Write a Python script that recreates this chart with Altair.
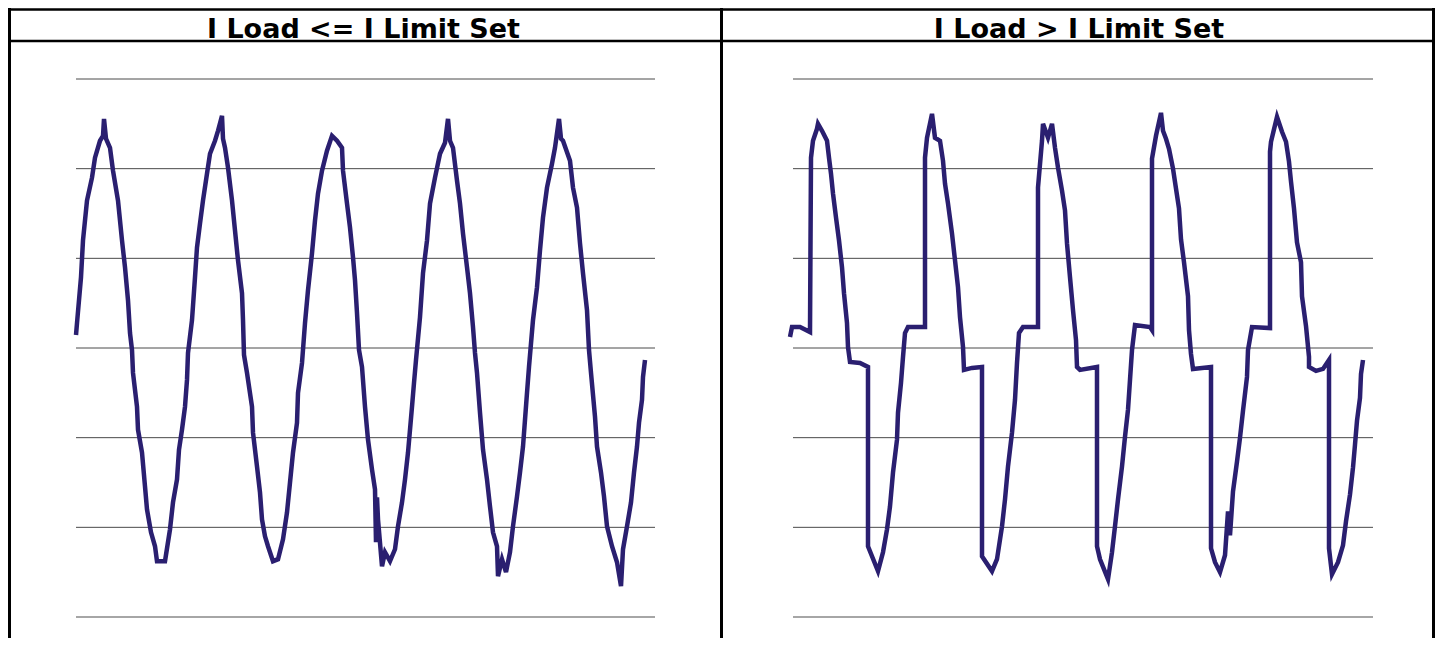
import altair as alt
import pandas as pd

# ---- data (sample index, current in counts) ----
panel_titles = ["I Load <= I Limit Set", "I Load > I Limit Set"]
grid_levels = [-180, -90, 0, 90, 180, 270]
base_level = [-270]
left_span = [0, 579]
right_span = [0, 580]

left_trace = [
    (0, 13), (1, 25), (5, 71), (7, 108), (11, 148), (16, 171), (19, 191), (24, 208), (27, 213), (28, 230),
    (30, 210), (34, 201), (37, 178), (42, 148), (46, 108), (49, 81), (52, 48), (54, 15), (56, -2), (57, -25),
    (61, -59), (62, -82), (66, -105), (69, -139), (71, -162), (75, -185), (79, -199), (81, -214), (89, -214), (94, -182),
    (97, -155), (101, -132), (103, -102), (106, -82), (109, -59), (111, -32), (112, -5), (116, 28), (119, 71), (121, 101),
    (124, 125), (127, 148), (131, 175), (134, 195), (139, 208), (142, 218), (146, 233), (147, 210), (149, 201), (152, 181),
    (156, 148), (159, 118), (162, 88), (166, 55), (167, 28), (168, -7), (171, -25), (176, -59), (177, -85), (181, -119),
    (184, -145), (186, -172), (189, -189), (192, -199), (197, -214), (202, -212), (207, -192), (211, -165), (214, -135), (217, -105),
    (221, -75), (222, -45), (226, -15), (229, 25), (232, 58), (236, 95), (239, 128), (242, 155), (246, 178), (251, 198),
    (256, 213), (261, 208), (266, 201), (267, 178), (271, 145), (274, 121), (277, 91), (279, 68), (281, 35), (283, -2),
    (286, -19), (289, -59), (292, -92), (296, -122), (299, -142), (300, -195), (301, -150), (302, -172), (306, -219), (309, -205),
    (314, -214), (319, -202), (322, -179), (326, -155), (329, -132), (332, -105), (334, -82), (336, -59), (338, -35), (340, -12),
    (344, 31), (347, 75), (351, 108), (354, 145), (359, 171), (364, 195), (369, 206), (372, 230), (374, 208), (377, 201),
    (381, 168), (384, 145), (387, 115), (391, 81), (394, 55), (397, 21), (399, -5), (401, -25), (404, -65), (407, -102),
    (411, -132), (414, -159), (417, -185), (421, -199), (422, -229), (426, -212), (430, -225), (434, -205), (437, -179), (441, -149),
    (444, -125), (447, -99), (449, -72), (451, -45), (453, -19), (457, 28), (461, 61), (464, 98), (467, 131), (471, 161),
    (476, 185), (479, 201), (483, 230), (485, 210), (487, 208), (494, 188), (497, 161), (501, 141), (504, 105), (507, 75),
    (511, 38), (513, -2), (515, -25), (519, -69), (521, -99), (525, -125), (528, -149), (531, -179), (536, -199), (541, -215),
    (545, -239), (547, -202), (551, -179), (555, -155), (558, -125), (561, -99), (563, -75), (566, -52), (567, -29), (569, -12),
]

right_trace = [
    (-3, 11), (-1, 21), (7, 21), (17, 16), (18, 191), (20, 208), (24, 220), (25, 225), (29, 218), (34, 208),
    (36, 191), (38, 175), (40, 155), (43, 131), (46, 108), (49, 81), (51, 55), (54, 25), (55, 1), (57, -14),
    (67, -15), (75, -19), (75, -199), (79, -209), (85, -224), (90, -205), (94, -182), (97, -159), (100, -125), (104, -92),
    (105, -65), (108, -35), (110, -9), (112, 15), (115, 21), (132, 21), (132, 191), (134, 211), (139, 235), (142, 211),
    (147, 208), (150, 188), (152, 165), (155, 145), (159, 115), (162, 88), (165, 61), (167, 31), (170, 1), (171, -22),
    (179, -20), (189, -19), (189, -209), (199, -224), (204, -212), (209, -179), (212, -152), (215, -119), (219, -85), (222, -52),
    (224, -15), (226, 15), (230, 21), (245, 21), (245, 161), (249, 208), (250, 225), (255, 211), (259, 225), (262, 201),
    (265, 181), (269, 158), (272, 138), (274, 105), (277, 71), (280, 38), (283, 8), (284, -19), (287, -22), (304, -19),
    (304, -199), (307, -212), (315, -232), (319, -205), (322, -179), (325, -152), (329, -119), (332, -89), (335, -62), (337, -32),
    (339, -2), (342, 23), (357, 21), (359, 18), (359, 190), (363, 213), (368, 236), (370, 218), (373, 210), (376, 200),
    (380, 180), (383, 160), (386, 140), (388, 109), (391, 86), (395, 52), (396, 18), (398, -6), (400, -21), (418, -19),
    (418, -201), (422, -215), (427, -225), (432, -208), (435, -164), (437, -188), (440, -144), (444, -114), (447, -90), (450, -63),
    (454, -29), (455, -2), (459, 21), (477, 20), (477, 197), (478, 207), (484, 232), (489, 217), (493, 207), (496, 187),
    (498, 167), (501, 140), (504, 106), (508, 86), (509, 52), (513, 22), (516, -9), (516, -19), (523, -23), (530, -21),
    (536, -12), (536, -201), (539, -227), (545, -215), (550, -198), (553, -174), (557, -147), (560, -120), (562, -97), (564, -73),
    (567, -50), (568, -26), (570, -12),
]

# ---- styling ----
W, H = 1427, 630
LINE = "#2a1f70"
GRID = "#4a4a4a"
BASE = "#a6a6a6"
FONT = "DejaVu Sans"

yscale = alt.Scale(domain=[-270, 270], range=[609, 71])


def panel(trace, span, xrange):
    xs = alt.Scale(domain=span, range=xrange)
    df = pd.DataFrame(trace, columns=["sample", "current"])
    df["i"] = range(len(df))
    grid = pd.DataFrame({"level": grid_levels, "a": span[0], "b": span[1]})
    base = pd.DataFrame({"level": base_level, "a": span[0], "b": span[1]})
    g = alt.Chart(grid).mark_rule(color=GRID, strokeWidth=1).encode(
        x=alt.X("a:Q", scale=xs, axis=None),
        x2="b:Q",
        y=alt.Y("level:Q", scale=yscale, axis=None),
    )
    b = alt.Chart(base).mark_rule(color=BASE, strokeWidth=2).encode(
        x=alt.X("a:Q", scale=xs, axis=None),
        x2="b:Q",
        y=alt.Y("level:Q", scale=yscale, axis=None),
    )
    ln = alt.Chart(df).mark_line(color=LINE, strokeWidth=4.5).encode(
        x=alt.X("sample:Q", scale=xs, axis=None),
        y=alt.Y("current:Q", scale=yscale, axis=None),
        order="i:Q",
    )
    return alt.layer(g, b, ln)


one = alt.Data(values=[{"k": 0}])


def hrule(y, x1, x2, w):
    return alt.Chart(one).mark_rule(color="black", strokeWidth=w).encode(
        x=alt.value(x1), x2=alt.value(x2), y=alt.value(y))


def vrule(x, y1, y2, w):
    return alt.Chart(one).mark_rule(color="black", strokeWidth=w).encode(
        x=alt.value(x), y=alt.value(y1), y2=alt.value(y2))


frame = [
    hrule(1.5, 0, W, 2.5),
    hrule(33, 0, W, 2.5),
    vrule(1.5, 0, H, 3),
    vrule(713.5, 0, H, 3),
    vrule(1425.5, 0, H, 3),
]


def title(text, cx):
    return alt.Chart(alt.Data(values=[{"t": text}])).mark_text(
        font=FONT, fontSize=27, fontWeight="bold", color="black",
        align="center", baseline="alphabetic",
    ).encode(text="t:N", x=alt.value(cx), y=alt.value(30))


chart = alt.layer(
    *frame,
    panel(left_trace, left_span, [68, 647]),
    panel(right_trace, right_span, [785, 1365]),
    title(panel_titles[0], 355.5),
    title(panel_titles[1], 1071),
).resolve_scale(x="independent").properties(
    width=W, height=H, padding=0,
    autosize=alt.AutoSizeParams(type="none"),
).configure_view(stroke=None)

chart.save("out.html", embed_options={"renderer": "svg", "actions": False})
